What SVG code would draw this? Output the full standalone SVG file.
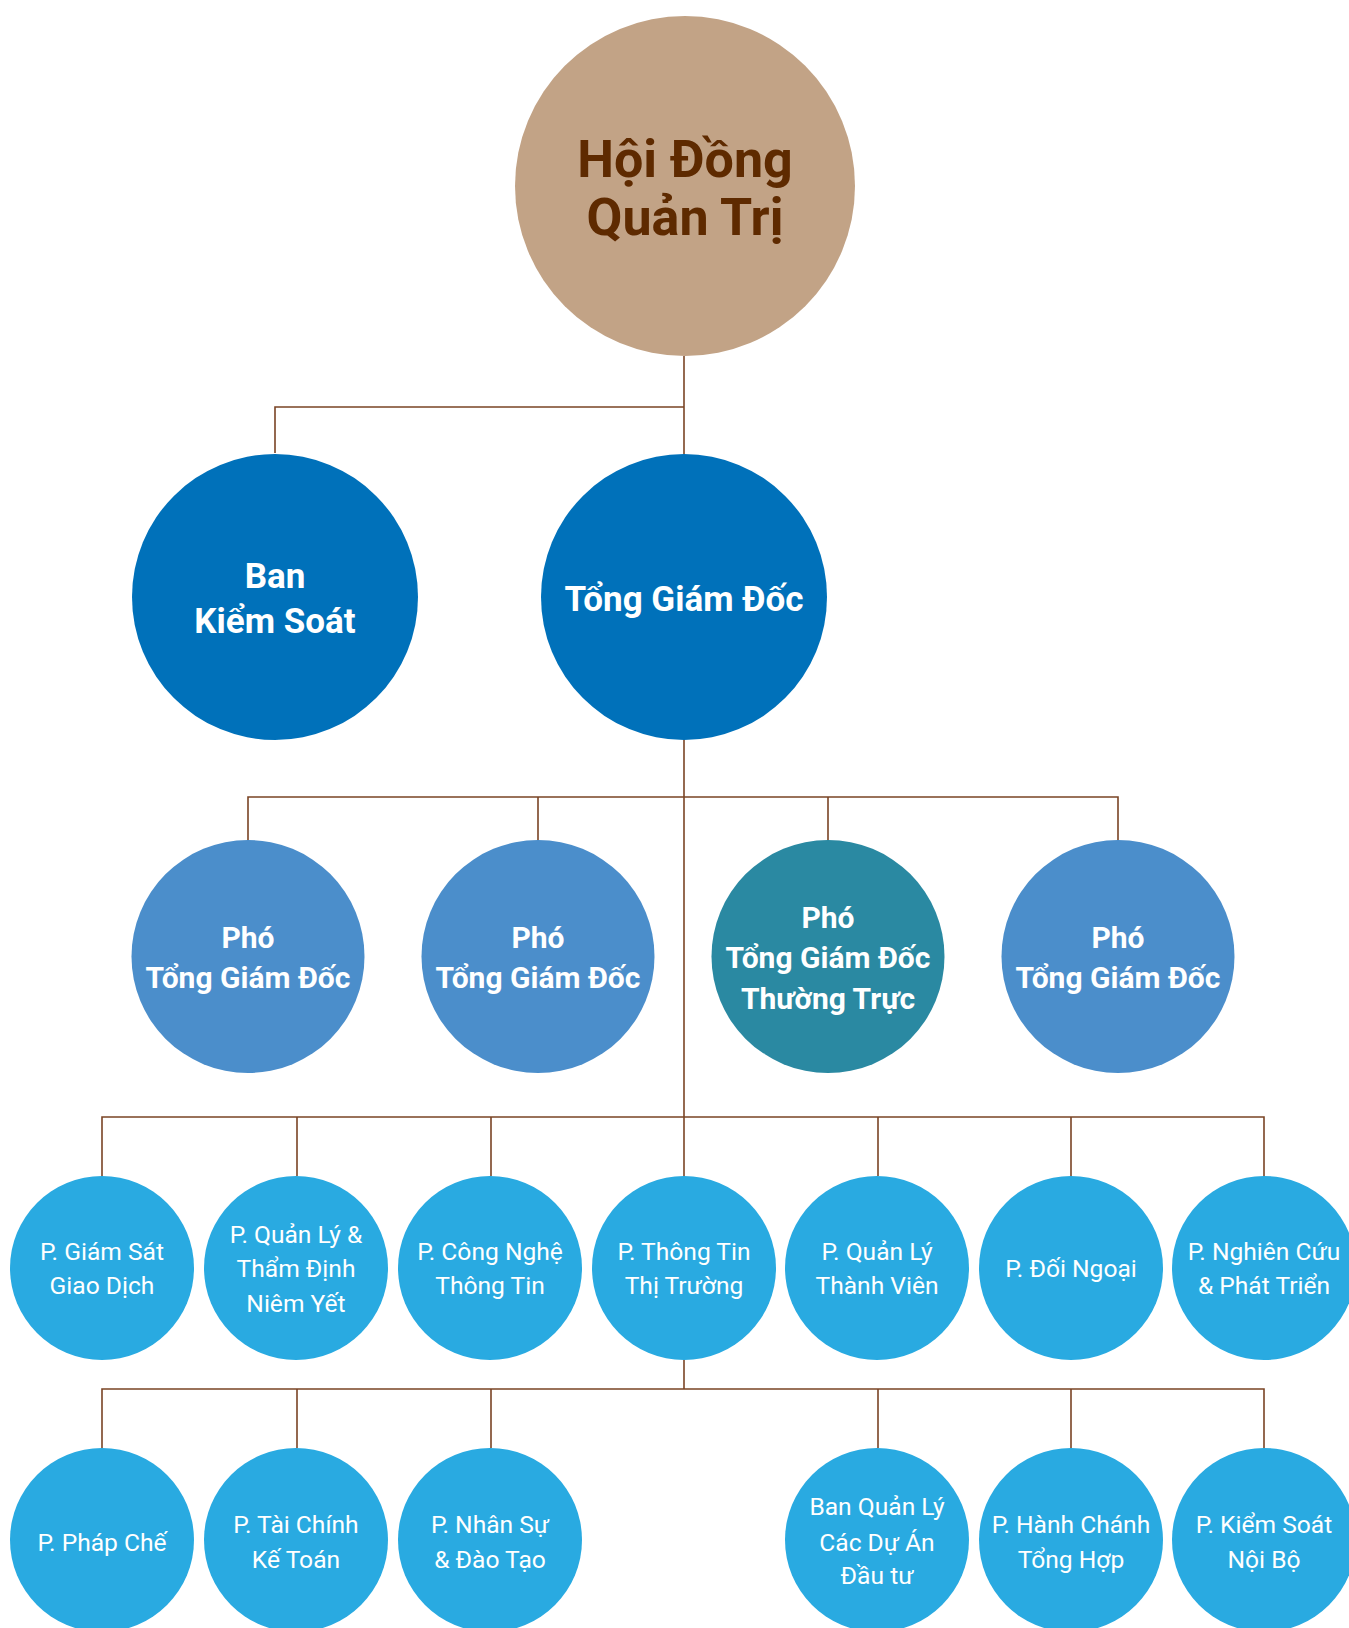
<svg xmlns="http://www.w3.org/2000/svg" width="1349" height="1628" viewBox="0 0 1349 1628">
<style>
.ln{stroke:#7A4425;stroke-width:1.6;fill:none}
text{font-family:Roboto,"Noto Sans","Liberation Sans",sans-serif;text-anchor:middle}
.t0{font-size:52px;font-weight:700;fill:#5E2A00}
.t1{font-size:35px;font-weight:700;fill:#fff}
.t2{font-size:30px;font-weight:700;fill:#fff}
.t3{font-size:24.6px;font-weight:400;fill:#fff}
.c0{fill:#C2A386}
.c1{fill:#0071BA}
.c2{fill:#4B8ECB}
.c2t{fill:#2A89A2}
.c3{fill:#29AAE1}
</style>
<rect width="1349" height="1628" fill="#fff"/>
<g id="connectors">
<path class="ln" d="M684 356V1389"/>
<path class="ln" d="M275 453V407H684"/>
<path class="ln" d="M248 840V797H1118V840M538 797V840M828 797V840"/>
<path class="ln" d="M102 1176V1117H1264V1176M297 1117V1176M491 1117V1176M878 1117V1176M1071 1117V1176"/>
<path class="ln" d="M102 1448V1389H1264V1448M297 1389V1448M491 1389V1448M878 1389V1448M1071 1389V1448"/>
</g>
<g id="hdqt"><circle class="c0" cx="685" cy="186" r="170"/><text class="t0" x="685" y="177">Hội Đồng</text><text class="t0" x="685" y="235">Quản Trị</text></g>
<g id="bks"><circle class="c1" cx="275" cy="597" r="143"/><text class="t1" x="275" y="588">Ban</text><text class="t1" x="275" y="633">Kiểm Soát</text></g>
<g id="tgd"><circle class="c1" cx="684" cy="597" r="143"/><text class="t1" x="684" y="611">Tổng Giám Đốc</text></g>
<g id="ptgd1"><circle class="c2" cx="248" cy="956.5" r="116.5"/><text class="t2" x="248" y="948">Phó</text><text class="t2" x="248" y="988">Tổng Giám Đốc</text></g>
<g id="ptgd2"><circle class="c2" cx="538" cy="956.5" r="116.5"/><text class="t2" x="538" y="948">Phó</text><text class="t2" x="538" y="988">Tổng Giám Đốc</text></g>
<g id="ptgdtt"><circle class="c2t" cx="828" cy="956.5" r="116.5"/><text class="t2" x="828" y="928">Phó</text><text class="t2" x="828" y="968">Tổng Giám Đốc</text><text class="t2" x="828" y="1009">Thường Trực</text></g>
<g id="ptgd3"><circle class="c2" cx="1118" cy="956.5" r="116.5"/><text class="t2" x="1118" y="948">Phó</text><text class="t2" x="1118" y="988">Tổng Giám Đốc</text></g>
<g id="gsgd"><circle class="c3" cx="102" cy="1268" r="92"/><text class="t3" x="102" y="1260">P. Giám Sát</text><text class="t3" x="102" y="1294">Giao Dịch</text></g>
<g id="qltd"><circle class="c3" cx="296" cy="1268" r="92"/><text class="t3" x="296" y="1243">P. Quản Lý &amp;</text><text class="t3" x="296" y="1277">Thẩm Định</text><text class="t3" x="296" y="1312">Niêm Yết</text></g>
<g id="cntt"><circle class="c3" cx="490" cy="1268" r="92"/><text class="t3" x="490" y="1260">P. Công Nghệ</text><text class="t3" x="490" y="1294">Thông Tin</text></g>
<g id="tttt"><circle class="c3" cx="684" cy="1268" r="92"/><text class="t3" x="684" y="1260">P. Thông Tin</text><text class="t3" x="684" y="1294">Thị Trường</text></g>
<g id="qltv"><circle class="c3" cx="877" cy="1268" r="92"/><text class="t3" x="877" y="1260">P. Quản Lý</text><text class="t3" x="877" y="1294">Thành Viên</text></g>
<g id="dn"><circle class="c3" cx="1071" cy="1268" r="92"/><text class="t3" x="1071" y="1277">P. Đối Ngoại</text></g>
<g id="nctt"><circle class="c3" cx="1264" cy="1268" r="92"/><text class="t3" x="1264" y="1260">P. Nghiên Cứu</text><text class="t3" x="1264" y="1294">&amp; Phát Triển</text></g>
<g id="pc"><circle class="c3" cx="102" cy="1540" r="92"/><text class="t3" x="102" y="1551">P. Pháp Chế</text></g>
<g id="tckt"><circle class="c3" cx="296" cy="1540" r="92"/><text class="t3" x="296" y="1533">P. Tài Chính</text><text class="t3" x="296" y="1568">Kế Toán</text></g>
<g id="nsdt"><circle class="c3" cx="490" cy="1540" r="92"/><text class="t3" x="490" y="1533">P. Nhân Sự</text><text class="t3" x="490" y="1568">&amp; Đào Tạo</text></g>
<g id="bqlda"><circle class="c3" cx="877" cy="1540" r="92"/><text class="t3" x="877" y="1515">Ban Quản Lý</text><text class="t3" x="877" y="1551">Các Dự Án</text><text class="t3" x="877" y="1584">Đầu tư</text></g>
<g id="hcth"><circle class="c3" cx="1071" cy="1540" r="92"/><text class="t3" x="1071" y="1533">P. Hành Chánh</text><text class="t3" x="1071" y="1568">Tổng Hợp</text></g>
<g id="ksnb"><circle class="c3" cx="1264" cy="1540" r="92"/><text class="t3" x="1264" y="1533">P. Kiểm Soát</text><text class="t3" x="1264" y="1568">Nội Bộ</text></g>
</svg>
